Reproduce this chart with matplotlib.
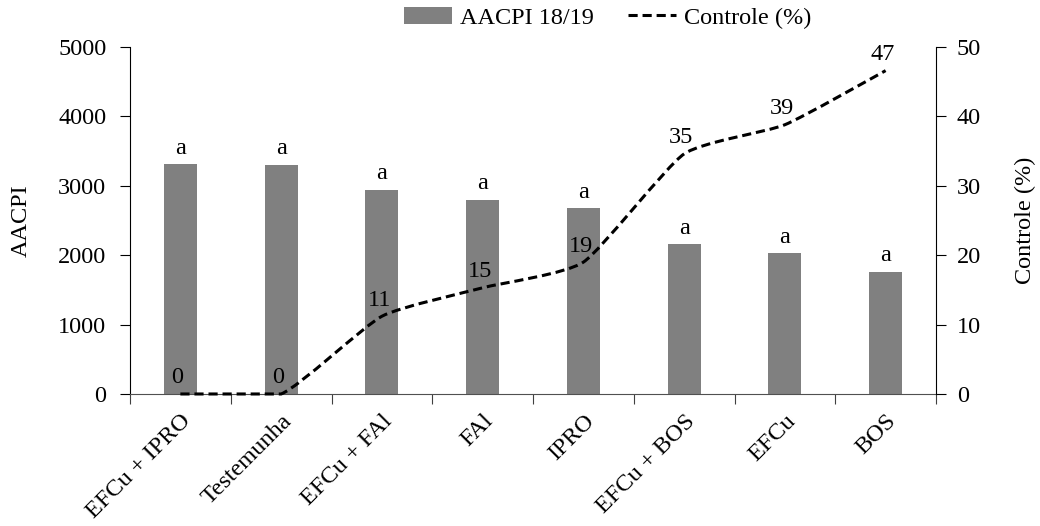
import matplotlib
matplotlib.use("Agg")
import matplotlib.pyplot as plt
from matplotlib.path import Path
from matplotlib.patches import PathPatch
from matplotlib.lines import Line2D
from matplotlib.patches import Patch
import numpy as np

plt.rcParams['font.family'] = ['Liberation Serif', 'DejaVu Serif']

categories = ["EFCu + IPRO", "Testemunha", "EFCu + FAl", "FAl", "IPRO",
              "EFCu + BOS", "EFCu", "BOS"]
aacpi = [3310, 3300, 2940, 2795, 2675, 2160, 2025, 1765]
letters = ["a", "a", "a", "a", "a", "a", "a", "a"]
controle = [0, 0, 11.2, 15.3, 19.0, 34.6, 38.8, 46.6]
controle_labels = [0, 0, 11, 15, 19, 35, 39, 47]

FS = 17.5
fig = plt.figure(figsize=(10.4, 5.26), dpi=100)
ax = fig.add_axes([0.125, 0.251, 0.775, 0.6596])
ax2 = ax.twinx()

x = np.arange(len(categories))
bar_color = "#808080"
ax.bar(x, aacpi, width=0.33, color=bar_color, zorder=2)
for xi, v, l in zip(x, aacpi, letters):
    ax.annotate(l, (xi, v), xytext=(0, 4), textcoords="offset points",
                ha="center", va="bottom", fontsize=FS)

ax.set_xlim(-0.5, len(categories) - 0.5)
ax.set_ylim(0, 5000)
ax.set_yticks([0, 1000, 2000, 3000, 4000, 5000])
ax2.set_ylim(0, 50)
ax2.set_yticks([0, 10, 20, 30, 40, 50])

# mildly smoothed line (cubic Bezier through the data points, no overshoot)
px = x.astype(float)
py = np.array(controle, dtype=float)
verts = [(px[0], py[0])]
codes = [Path.MOVETO]
n = len(px)
t = 0.09
for i in range(n - 1):
    p0 = (px[max(i - 1, 0)], py[max(i - 1, 0)])
    p1 = (px[i], py[i])
    p2 = (px[i + 1], py[i + 1])
    p3 = (px[min(i + 2, n - 1)], py[min(i + 2, n - 1)])
    lo, hi = min(p1[1], p2[1]), max(p1[1], p2[1])
    c1 = (p1[0] + (p2[0] - p0[0]) * t,
          float(np.clip(p1[1] + (p2[1] - p0[1]) * t, lo, hi)))
    c2 = (p2[0] - (p3[0] - p1[0]) * t,
          float(np.clip(p2[1] - (p3[1] - p1[1]) * t, lo, hi)))
    verts += [c1, c2, p2]
    codes += [Path.CURVE4] * 3
path = Path(verts, codes)
ax2.add_patch(PathPatch(path, facecolor="none", edgecolor="black", lw=2.2,
                        linestyle=(0, (3, 1.6)), zorder=3, clip_on=False))
for xi, v, l in zip(x, controle, controle_labels):
    ax2.annotate(f"{l}", (xi, v), xytext=(-2, 4), textcoords="offset points",
                 ha="center", va="bottom", fontsize=FS)

# x ticks at category boundaries
ax.set_xticks(np.arange(-0.5, len(categories) + 0.5, 1.0))
ax.set_xticklabels([])
ax.set_xticks(x, minor=True)
ax.set_xticklabels(categories, minor=True, rotation=45, ha="right",
                   rotation_mode="anchor", fontsize=FS)
ax.tick_params(axis="x", which="minor", length=0, pad=12)
ax.tick_params(axis="x", which="major", length=7, direction="out", color="#404040")
ax.tick_params(axis="y", length=7, direction="out", labelsize=FS, pad=10)
ax2.tick_params(axis="y", length=7, direction="out", labelsize=FS, pad=8)

for a in (ax, ax2):
    a.spines["top"].set_visible(False)
ax.spines["right"].set_visible(False)
ax2.spines["left"].set_visible(False)
ax2.spines["bottom"].set_visible(False)
ax.spines["bottom"].set_color("#505050")

ax.set_ylabel("AACPI", fontsize=FS, labelpad=19)
ax2.set_ylabel("Controle (%)", fontsize=FS, labelpad=24)

handles = [Patch(facecolor=bar_color, edgecolor="none"),
           Line2D([0], [0], color="black", lw=2.2, linestyle=(0, (3, 1.6)))]
fig.legend(handles, ["AACPI 18/19", "Controle (%)"], loc="center",
           bbox_to_anchor=(0.584, 0.966), ncol=2, frameon=False, fontsize=FS,
           handlelength=2.0, handletextpad=0.3, columnspacing=1.4)

fig.savefig("out.png", dpi=100)
